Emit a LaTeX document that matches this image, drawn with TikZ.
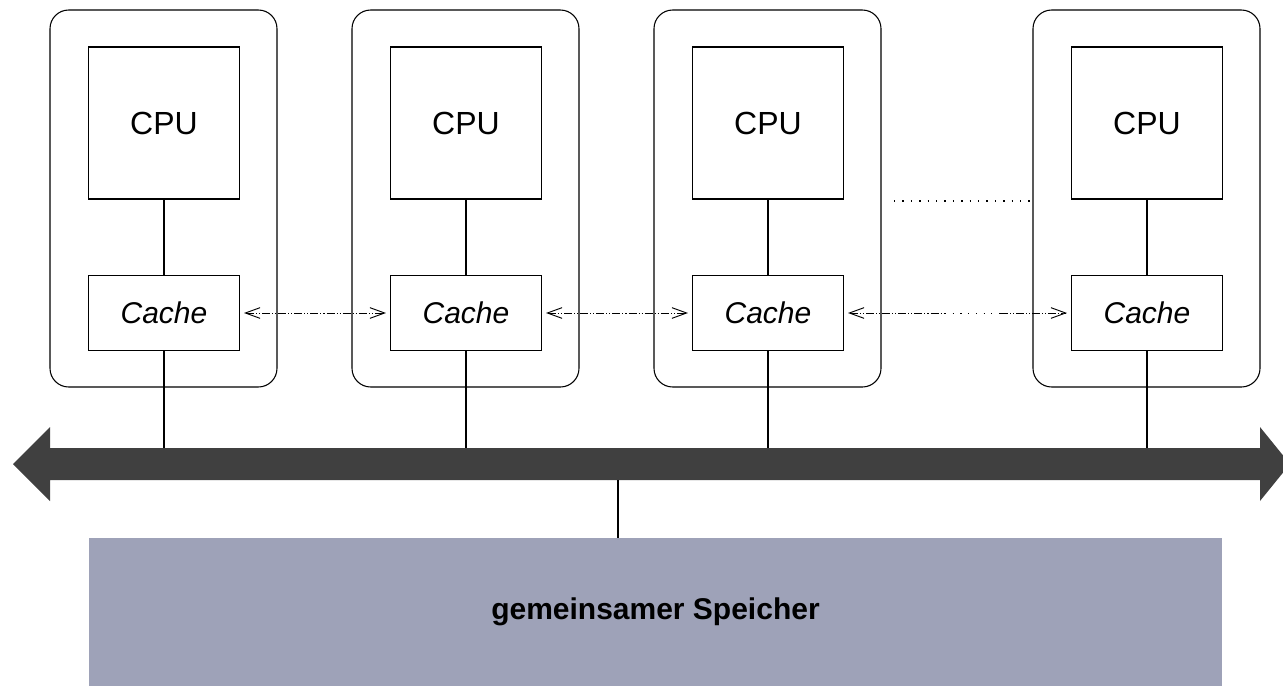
\documentclass[tikz,border=0pt]{standalone}
\usepackage{fontspec}
\setmainfont{Liberation Sans}
\usetikzlibrary{arrows.meta}
\definecolor{busgray}{HTML}{404040}
\definecolor{memfill}{HTML}{9EA2B8}
\tikzset{
  outerbox/.style={draw, line width=0.8pt, rounded corners=14pt},
  cpubox/.style={draw, line width=0.8pt, fill=white, minimum width=113.25pt, minimum height=114pt, inner sep=0pt, font=\fontsize{24}{28}\selectfont},
  cachebox/.style={draw, line width=0.8pt, fill=white, minimum width=113.25pt, minimum height=56.25pt, inner sep=0pt, font=\fontsize{22.5}{27}\selectfont\itshape},
  wire/.style={line width=1.2pt},
  cohpat/.style={line width=0.7pt, dash pattern=on 6pt off 1.5pt on 0.8pt off 1.5pt on 0.8pt off 1.5pt},
  barb/.tip={Straight Barb[length=11pt,width=8pt]},
  dotline/.style={line width=1pt, dash pattern=on 1pt off 5.3pt}
}
\begin{document}
\begin{tikzpicture}[x=0.75pt,y=-0.75pt]
\useasboundingbox (0,0) rectangle (1283,686);
% outer rounded boxes
\foreach \cx/\n in {164/1,466/2,768/3,1147/4}{
  \draw[outerbox] (\cx-114,10) rectangle (\cx+113,387);
}
% CPU & cache nodes
\foreach \cx/\n in {164/1,466/2,768/3,1147/4}{
  \node[cpubox] (cpu\n) at (\cx,123) {CPU};
  \node[cachebox] (cache\n) at (\cx,313) {Cache};
  \coordinate (bus\n) at (\cx,449);
  \draw[wire] (cpu\n.south) -- (cache\n.north);
  \draw[wire] (cache\n.south) -- (bus\n);
}
% bus
\fill[busgray] (13,464) -- (50,427) -- (50,448) -- (1260,448) -- (1260,427) -- (1290,464) -- (1260,501) -- (1260,480) -- (50,480) -- (50,501) -- cycle;
% memory
\node[fill=memfill, minimum width=849.75pt, minimum height=111pt, inner sep=0pt, font=\fontsize{22.5}{27}\selectfont\bfseries] (mem) at (655.5,612) {gemeinsamer Speicher};
\coordinate (busmid) at (618,480);
\draw[wire] (busmid) -- (mem.north -| busmid);
% coherence arrows
\draw[cohpat, barb-barb] ([xshift=3pt]cache1.east) -- ([xshift=-3pt]cache2.west);
\draw[cohpat, barb-barb] ([xshift=3pt]cache2.east) -- ([xshift=-3pt]cache3.west);
\coordinate (m1) at (945,313);
\coordinate (m2) at (1000,313);
\draw[cohpat, barb-] ([xshift=3pt]cache3.east) -- (m1);
\draw[line width=0.7pt, dash pattern=on 0.8pt off 5pt] (m1) -- (m2);
\draw[cohpat, -barb] (m2) -- ([xshift=-3pt]cache4.west);
% dots between
\coordinate (d1) at (894,201);
\coordinate (d2) at (1030,201);
\draw[dotline] (d1) -- (d2);
\end{tikzpicture}
\end{document}
